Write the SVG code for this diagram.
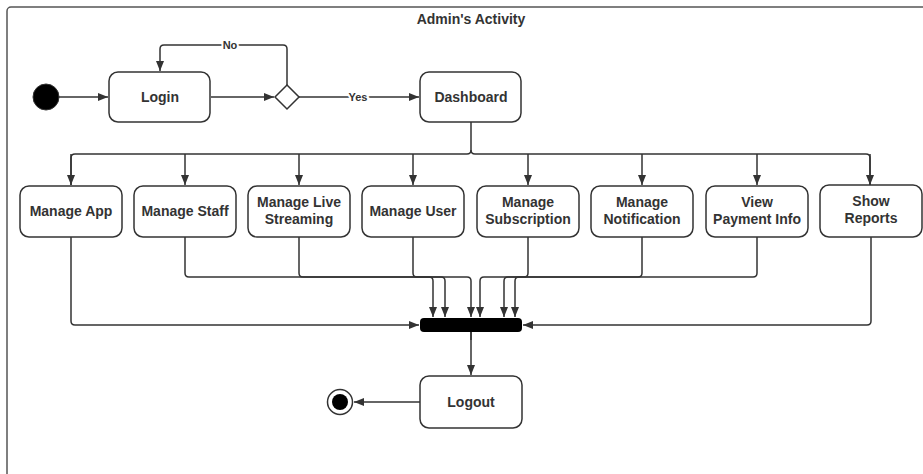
<svg xmlns="http://www.w3.org/2000/svg" width="923" height="474" viewBox="0 0 923 474">
<defs>
<marker id="ah" viewBox="0 0 10 10" refX="10" refY="5" markerWidth="10" markerHeight="10" markerUnits="userSpaceOnUse" orient="auto">
<path d="M0,1 L10,5 L0,9 Z" fill="#333"/>
</marker>
</defs>
<style>
.node rect{fill:#fff;stroke:#333;stroke-width:1.5}
.t{font-family:"Liberation Sans",Arial,sans-serif;font-weight:bold;font-size:14px;fill:#333;text-anchor:middle}
.lbl{font-family:"Liberation Sans",Arial,sans-serif;font-weight:bold;font-size:11px;fill:#333;text-anchor:middle}
.c{fill:none;stroke:#333;stroke-width:1.5;stroke-linejoin:round}
.a{marker-end:url(#ah)}
</style>
<rect width="923" height="474" fill="#fff"/>
<g id="frame">
<rect x="7" y="7" width="930" height="480" rx="4" fill="none" stroke="#555" stroke-width="1.5"/>
<text class="t" x="471" y="24" font-size="13">Admin's Activity</text>
</g>
<g id="connectors">
<path class="c a" d="M59,97 H108"/>
<path class="c a" d="M211,97 H274"/>
<path class="c a" d="M287,85 V49 Q287,45 283,45 H164 Q160,45 160,49 V71"/>
<path class="c a" d="M299,97 H419"/>
<path class="c" d="M471,122 V150 Q471,154 467,154 H75 Q71,154 71,158 V185"/>
<path class="c a" d="M71,154 V185"/>
<path class="c a" d="M185,154 V185"/>
<path class="c a" d="M299,154 V185"/>
<path class="c a" d="M413,154 V185"/>
<path class="c" d="M471,150 Q471,154 475,154 H866 Q870,154 870,158 V185"/>
<path class="c a" d="M870,154 V185"/>
<path class="c a" d="M528,154 V185"/>
<path class="c a" d="M642,154 V185"/>
<path class="c a" d="M757,154 V185"/>
<path class="c a" d="M71,237 V321 Q71,325 75,325 H419"/>
<path class="c a" d="M871,237 V321 Q871,325 867,325 H523"/>
<path class="c a" d="M185,237 V273 Q185,277 189,277 H429 Q433,277 433,281 V317"/>
<path class="c a" d="M299,237 V273 Q299,277 303,277 H441 Q445,277 445,281 V317"/>
<path class="c a" d="M413,237 V273 Q413,277 417,277 H467 Q471,277 471,281 V317"/>
<path class="c a" d="M528,237 V273 Q528,277 524,277 H484 Q480,277 480,281 V317"/>
<path class="c a" d="M642,237 V273 Q642,277 638,277 H508 Q504,277 504,281 V317"/>
<path class="c a" d="M757,237 V273 Q757,277 753,277 H519 Q515,277 515,281 V317"/>
<path class="c a" d="M471,325 V375"/>
<path class="c a" d="M420,402 H354"/>
<text class="lbl" x="230" y="49" style="paint-order:stroke" stroke="#fff" stroke-width="4">No</text>
<text class="lbl" x="358" y="101" style="paint-order:stroke" stroke="#fff" stroke-width="4">Yes</text>
</g>
<g id="start"><circle cx="46" cy="97" r="13" fill="#000" stroke="#333" stroke-width="1"/></g>
<g id="login" class="node"><rect x="109" y="72" width="101" height="50" rx="9"/><text class="t" x="160" y="102">Login</text></g>
<g id="decision"><path d="M287,85 L299,97 L287,109 L275,97 Z" fill="#fff" stroke="#333" stroke-width="1.5"/></g>
<g id="dashboard" class="node"><rect x="420" y="72" width="101" height="50" rx="9"/><text class="t" x="471" y="102">Dashboard</text></g>
<g id="manage-app" class="node"><rect x="20" y="186" width="102" height="51" rx="9"/><text class="t" x="71" y="216">Manage App</text></g>
<g id="manage-staff" class="node"><rect x="134" y="186" width="102" height="51" rx="9"/><text class="t" x="185" y="216">Manage Staff</text></g>
<g id="manage-live" class="node"><rect x="248" y="186" width="102" height="51" rx="9"/><text class="t" x="299" y="207">Manage Live</text><text class="t" x="299" y="224">Streaming</text></g>
<g id="manage-user" class="node"><rect x="362" y="186" width="102" height="51" rx="9"/><text class="t" x="413" y="216">Manage User</text></g>
<g id="manage-subscription" class="node"><rect x="477" y="186" width="102" height="51" rx="9"/><text class="t" x="528" y="207">Manage</text><text class="t" x="528" y="224">Subscription</text></g>
<g id="manage-notification" class="node"><rect x="591" y="186" width="102" height="51" rx="9"/><text class="t" x="642" y="207">Manage</text><text class="t" x="642" y="224">Notification</text></g>
<g id="view-payment" class="node"><rect x="706" y="186" width="102" height="51" rx="9"/><text class="t" x="757" y="207">View</text><text class="t" x="757" y="224">Payment Info</text></g>
<g id="show-reports" class="node"><rect x="820" y="185" width="102" height="52" rx="9"/><text class="t" x="871" y="206">Show</text><text class="t" x="871" y="223">Reports</text></g>
<g id="join"><rect x="420" y="318" width="102" height="14" rx="4" fill="#000"/><path d="M471,332 V340" stroke="#333" stroke-width="1.5"/></g>
<g id="logout" class="node"><rect x="420" y="376" width="102" height="52" rx="9"/><text class="t" x="471" y="407">Logout</text></g>
<g id="end"><circle cx="340" cy="402" r="12.5" fill="#fff" stroke="#333" stroke-width="1.5"/><circle cx="340" cy="402" r="8" fill="#000"/></g>
</svg>
